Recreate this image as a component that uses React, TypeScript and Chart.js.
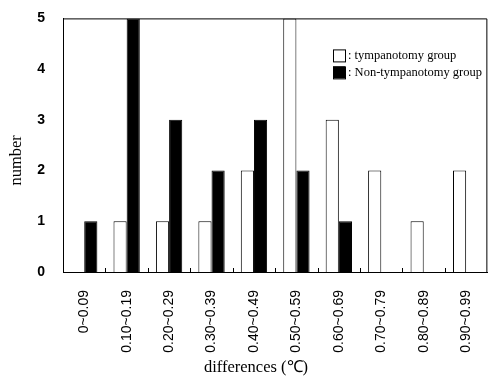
import React, { useEffect, useRef } from "react";
import { Chart, registerables } from "chart.js";

Chart.register(...registerables);

const categories = [
  "0~0.09",
  "0.10~0.19",
  "0.20~0.29",
  "0.30~0.39",
  "0.40~0.49",
  "0.50~0.59",
  "0.60~0.69",
  "0.70~0.79",
  "0.80~0.89",
  "0.90~0.99",
];
const tympanotomy = [0, 1, 1, 1, 2, 5, 3, 2, 1, 2];
const nonTympanotomy = [1, 5, 3, 2, 3, 2, 1, 0, 0, 0];
const seriesLabels = [": tympanotomy group", ": Non-tympanotomy group"];
const xTitle = "differences (℃)";
const yTitle = "number";

const decorPlugin = {
  id: "decor",
  afterDatasetsDraw(chart: any) {
    const { ctx, chartArea } = chart;
    const { left, right, top, bottom } = chartArea;
    ctx.save();
    // frame top & right
    ctx.strokeStyle = "#000";
    ctx.lineWidth = 1;
    ctx.beginPath();
    ctx.moveTo(left, top + 0.5);
    ctx.lineTo(right - 0.5, top + 0.5);
    ctx.lineTo(right - 0.5, bottom);
    ctx.stroke();
    // inward tick marks at category boundaries
    const n = categories.length;
    const w = (right - left) / n;
    ctx.beginPath();
    for (let i = 1; i < n; i++) {
      const x = Math.round(left + i * w) + 0.5;
      ctx.moveTo(x, bottom);
      ctx.lineTo(x, bottom - 4);
    }
    ctx.stroke();
    // legend
    const lx = left + 270;
    const boxes = [
      { y: top + 31, fill: "#fff" },
      { y: top + 48, fill: "#000" },
    ];
    ctx.font = "12.5px 'Liberation Serif', serif";
    ctx.textBaseline = "middle";
    ctx.textAlign = "left";
    boxes.forEach((b, i) => {
      ctx.fillStyle = b.fill;
      ctx.fillRect(lx, b.y, 12, 12);
      ctx.strokeRect(lx + 0.5, b.y + 0.5, 12, 12);
      ctx.fillStyle = "#000";
      ctx.fillText(seriesLabels[i], lx + 15, b.y + 6.5);
    });
    // axis titles
    ctx.font = "16.5px 'Liberation Serif', serif";
    ctx.textAlign = "center";
    ctx.fillText(xTitle, left + 193, bottom + 96);
    ctx.save();
    ctx.translate(17, top + 142);
    ctx.rotate(-Math.PI / 2);
    ctx.fillText(yTitle, 0, 0);
    ctx.restore();
    ctx.restore();
  },
};

export default function App() {
  const ref = useRef<HTMLCanvasElement | null>(null);
  useEffect(() => {
    document.body.style.margin = "0";
    const canvas = ref.current;
    if (!canvas) return;
    const chart = new Chart(canvas, {
      type: "bar",
      data: {
        labels: categories,
        datasets: [
          {
            label: "tympanotomy group",
            data: tympanotomy,
            backgroundColor: "#ffffff",
            borderColor: "#000000",
            borderWidth: 1,
            categoryPercentage: 0.62,
            barPercentage: 1.0,
          },
          {
            label: "Non-tympanotomy group",
            data: nonTympanotomy,
            backgroundColor: "#000000",
            borderColor: "#000000",
            borderWidth: 1,
            categoryPercentage: 0.62,
            barPercentage: 1.0,
          },
        ],
      },
      options: {
        responsive: false,
        animation: false,
        layout: { padding: { top: 18, right: 1, left: 0, bottom: 0 } },
        plugins: {
          legend: { display: false },
          tooltip: { enabled: false },
        },
        scales: {
          x: {
            grid: { display: false },
            border: { display: true, color: "#000", width: 1 },
            ticks: {
              color: "#000",
              minRotation: 90,
              maxRotation: 90,
              autoSkip: false,
              padding: 10,
              font: { family: "'Liberation Sans', Arial, sans-serif", size: 14 },
            },
            afterFit: (scale: any) => {
              scale.height = 106;
            },
          },
          y: {
            min: 0,
            max: 5,
            grid: { display: false },
            border: { display: true, color: "#000", width: 1 },
            ticks: {
              stepSize: 1,
              color: "#000",
              padding: 10,
              font: {
                family: "'Liberation Sans', Arial, sans-serif",
                size: 14,
                weight: "bold",
              },
            },
            afterFit: (scale: any) => {
              scale.width = 63;
            },
          },
        },
      },
      plugins: [decorPlugin],
    });
    return () => chart.destroy();
  }, []);
  return (
    <div style={{ position: "fixed", left: 0, top: 0, width: 493, height: 378, background: "#fff" }}>
      <canvas ref={ref} width={493} height={378} />
    </div>
  );
}
